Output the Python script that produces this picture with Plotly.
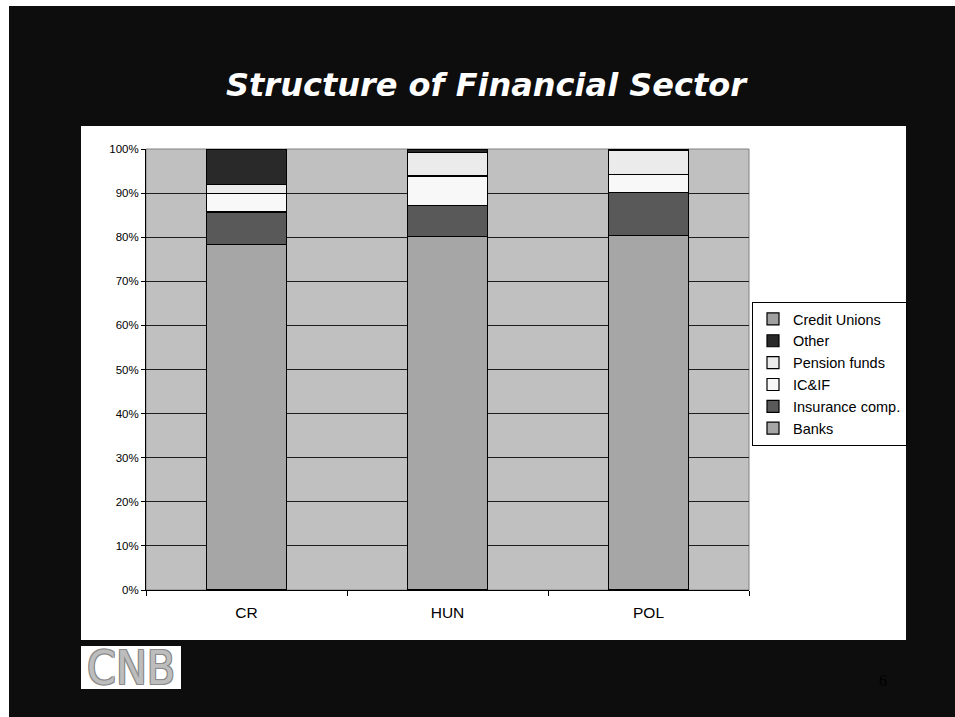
import plotly.graph_objects as go

# Share of total assets by institution type (percent)
countries = ["CR", "HUN", "POL"]
banks = [78.3, 80.2, 80.3]
insurance = [7.4, 7.0, 9.9]
ic_if = [4.3, 6.7, 4.0]
pension = [1.9, 5.3, 5.5]
other = [8.1, 0.8, 0.3]
credit_unions = [0.0, 0.0, 0.0]

y_ticks = list(range(0, 101, 10))
y_tick_labels = [f"{v}%" for v in y_ticks]

series = [
    ("Banks", banks, "#a6a6a6"),
    ("Insurance comp.", insurance, "#595959"),
    ("IC&IF", ic_if, "#f8f8f8"),
    ("Pension funds", pension, "#ebebeb"),
    ("Other", other, "#292929"),
    ("Credit Unions", credit_unions, "#a0a0a0"),
]

W, H = 955, 717
L, R, T, B = 146, 206, 149, 127
PW, PH = W - L - R, H - T - B


def px(x):
    return (x - L) / PW


def py(y):
    return (H - B - y) / PH


fig = go.Figure()
for name, vals, color in series:
    fig.add_trace(go.Bar(
        x=countries, y=vals, name=name, width=0.4,
        marker=dict(color=color, line=dict(color="#000000", width=1.2)),
    ))

shapes = [
    # slide background
    dict(type="rect", xref="paper", yref="paper", x0=px(9), x1=px(965),
         y0=py(6), y1=py(725), fillcolor="#0d0d0d", line_width=0, layer="below"),
    # white chart panel
    dict(type="rect", xref="paper", yref="paper", x0=px(81), x1=px(906),
         y0=py(126), y1=py(640), fillcolor="#ffffff", line_width=0, layer="below"),
    # plot area
    dict(type="rect", xref="paper", yref="paper", x0=0, x1=1, y0=0, y1=1,
         fillcolor="#c0c0c0", line=dict(color="#808080", width=1), layer="below"),
    # logo box
    dict(type="rect", xref="paper", yref="paper", x0=px(81), x1=px(181),
         y0=py(646), y1=py(689), fillcolor="#ffffff", line_width=0, layer="below"),
]

annotations = [
    dict(text="<b><i>Structure of Financial Sector</i></b>", xref="paper", yref="paper",
         x=px(487), y=py(85), xanchor="center", yanchor="middle", showarrow=False,
         font=dict(family="DejaVu Sans", size=32, color="#ffffff")),
    dict(text="CNB", xref="paper", yref="paper",
         x=px(131), y=py(668), xanchor="center", yanchor="middle", showarrow=False,
         font=dict(family="DejaVu Sans Condensed, Liberation Sans Narrow, Liberation Sans",
                   size=46, color="#bdbdbd",
                   shadow="1px 1px 0 #8a8a8a, -1px -1px 0 #8a8a8a, 1px -1px 0 #8a8a8a, -1px 1px 0 #8a8a8a")),
    dict(text="6", xref="paper", yref="paper",
         x=px(883), y=py(680), xanchor="center", yanchor="middle", showarrow=False,
         font=dict(family="Liberation Serif", size=16, color="#000000")),
]

fig.update_layout(
    width=W, height=H,
    margin=dict(l=L, r=R, t=T, b=B, pad=0),
    paper_bgcolor="#ffffff",
    plot_bgcolor="rgba(0,0,0,0)",
    barmode="stack",
    shapes=shapes,
    annotations=annotations,
    font=dict(family="Liberation Sans, Arial", color="#000000"),
    legend=dict(
        x=px(752), y=py(302), xanchor="left", yanchor="top",
        traceorder="reversed", bgcolor="#ffffff", bordercolor="#000000", borderwidth=1,
        font=dict(size=14.5, color="#000000"), itemwidth=30, tracegroupgap=0,
    ),
    showlegend=True,
)

fig.update_xaxes(
    type="category", showline=True, linecolor="#000000", linewidth=1,
    ticks="outside", tickson="boundaries", ticklen=5, tickcolor="#000000",
    tickfont=dict(size=15.5, color="#000000"), ticklabelstandoff=8,
    showgrid=False, fixedrange=True,
)
fig.update_yaxes(
    range=[0, 100], tickmode="array", tickvals=y_ticks, ticktext=y_tick_labels,
    showline=True, linecolor="#000000", linewidth=1,
    ticks="outside", ticklen=4, tickcolor="#000000",
    tickfont=dict(size=11.5, color="#000000"),
    showgrid=True, gridcolor="#1e1e1e", gridwidth=1, zeroline=False, fixedrange=True,
)

fig.write_html("out.html")
